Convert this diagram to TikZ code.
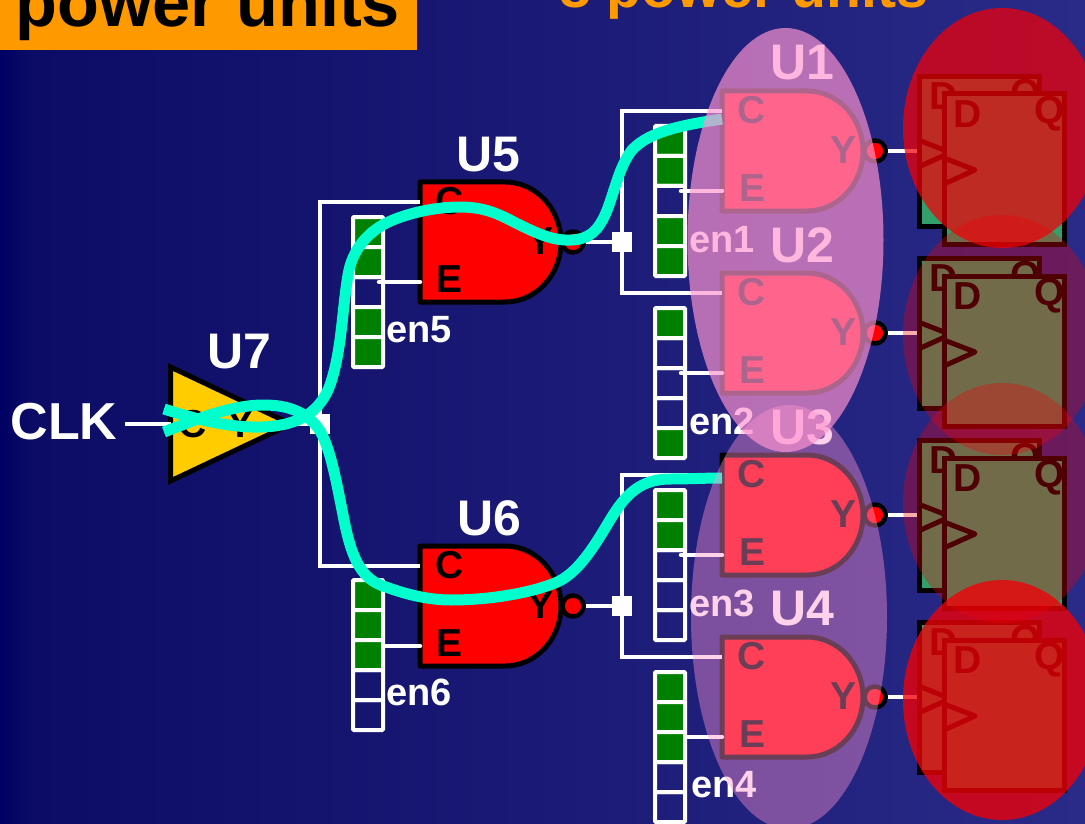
\documentclass[tikz,border=0pt]{standalone}
\usepackage{fontspec}
\setmainfont{Liberation Sans}
\usetikzlibrary{positioning, shapes.geometric}
\definecolor{bgstrip}{RGB}{0,0,100}
\definecolor{bgleft}{RGB}{12,12,102}
\definecolor{bgright}{RGB}{42,42,136}
\definecolor{clkgreen}{RGB}{0,255,204}
\definecolor{ffgreen}{RGB}{51,160,108}
\definecolor{bitgreen}{RGB}{0,128,0}
\definecolor{titleorange}{RGB}{255,153,0}
\definecolor{bufyellow}{RGB}{255,204,0}
\definecolor{halopink}{RGB}{255,148,208}
\definecolor{halored}{RGB}{242,0,7}
\tikzstyle{gatebody} = [draw=black, fill=red, line width=5pt, line join=round]
\tikzstyle{ffbody} = [rectangle, draw=black, fill=ffgreen, line width=5pt,
minimum width=120pt,
minimum height=150pt,
inner sep=0pt,
outer sep=0pt]
\tikzstyle{ffclock} = [draw=black, line width=5pt, line join=round]
\tikzstyle{bit} = [rectangle, rounded corners=1pt, draw=white, line width=4pt,
minimum width=30pt,
minimum height=30pt,
inner sep=0pt,
outer sep=0pt]
\tikzstyle{pinlabel} = [font=\fontsize{39}{39}\selectfont\bfseries, text=black, inner sep=0pt]
\tikzstyle{unitlabel} = [font=\fontsize{50}{50}\selectfont\bfseries, text=white, inner sep=0pt]
\tikzstyle{enlabel} = [font=\fontsize{38}{38}\selectfont\bfseries, text=white, inner sep=0pt, anchor=base west]
\tikzstyle{wire} = [draw=white, line width=4.5pt]
\tikzstyle{junction} = [rectangle, fill=white, minimum size=20pt, inner sep=0pt]
\tikzstyle{clktree} = [draw=clkgreen, line width=11pt]
\tikzstyle{bubble} = [circle, draw=black, fill=red, line width=4.5pt, minimum size=21pt, inner sep=0pt]
\tikzstyle{gatehalo} = [ellipse, fill=halopink, minimum width=196pt, minimum height=424pt, inner sep=0pt]
\tikzstyle{ffhalo} = [ellipse, fill=halored, minimum width=198pt, minimum height=240pt, inner sep=0pt]

% compuerta: nombre, izquierda, arriba
\newcommand{\nandgate}[3]{
  \coordinate (#1) at (#2,#3);
  \draw [gatebody] (#1) -- ++(85,0) .. controls +(31,0) and +(0,-33) .. ++(56,60)
    .. controls +(0,33) and +(31,0) .. ++(-56,60) -- ++(-85,0) -- cycle;
  \node (#1c) [pinlabel] at ([shift={(30,19)}]#1) {C};
  \node (#1e) [pinlabel] at ([shift={(30,97)}]#1) {E};
  \node (#1y) [pinlabel] at ([shift={(121,59)}]#1) {Y};
  \node (#1o) [bubble] at ([shift={(153,60)}]#1) {};
  \coordinate (#1cin) at ([shift={(0,20)}]#1);
  \coordinate (#1ein) at ([shift={(0,100)}]#1);
}
% registro: nombre, x, arriba, relleno de los cinco bits
\newcommand{\enreg}[8]{
  \node (#1a) [bit, fill=#4] at (#2,#3+15) {};
  \node (#1b) [bit, fill=#5, below=0pt of #1a] {};
  \node (#1c) [bit, fill=#6, below=0pt of #1b] {};
  \node (#1d) [bit, fill=#7, below=0pt of #1c] {};
  \node (#1e) [bit, fill=#8, below=0pt of #1d] {};
}
% flip-flop: nombre, izquierda, arriba
\newcommand{\flipflop}[3]{
  \node (#1) [ffbody, anchor=north west] at (#2,#3) {};
  \node (#1d) [pinlabel] at ([shift={(24,20)}]#1.north west) {D};
  \node (#1q) [pinlabel] at ([shift={(106,20)}]#1.north west) {Q};
  \draw [ffclock] ([shift={(0,64)}]#1.north west) -- ([shift={(31,76)}]#1.north west) -- ([shift={(0,90)}]#1.north west);
}

\begin{document}
\begin{tikzpicture}[x=1pt, y=-1pt]
  \useasboundingbox (0,0) rectangle (1085,824);
  \clip (0,0) rectangle (1085,824);

  % --- Fondo ---
  \fill [left color=bgleft, right color=bgright] (33,0) rectangle (1085,824);
  \fill [left color=bgstrip, right color=bgleft] (0,0) rectangle (33,824);
  \fill [titleorange] (0,0) rectangle (417,50);
  \node (title) [anchor=base west, inner sep=0pt, font=\fontsize{68.5}{68.5}\selectfont\bfseries, text=black] at (15.5,26.5) {power units};
  \node (subtitle) [anchor=base west, inner sep=0pt, font=\fontsize{57.2}{57.2}\selectfont\bfseries, text=titleorange] at (559,8) {8 power units};

  % --- Nodos de conexion ---
  \node (clk) [unitlabel, anchor=center, font=\fontsize{52}{52}\selectfont\bfseries] at (64,422) {CLK};
  \coordinate (u7in) at (170.5,424);
  \coordinate (u7out) at (291,424);
  \node (jclk) [junction] at (320,424) {};
  \node (ju5) [junction] at (622,242) {};
  \node (ju6) [junction] at (622,606) {};

  % --- Compuertas ---
  \draw [gatebody, fill=bufyellow, line join=miter] (170.5,367) -- (u7out) -- (170.5,481) -- cycle;
  \node (u7c) [pinlabel] at (193,424) {C};
  \node (u7y) [pinlabel] at (241,424) {Y};
  \nandgate{u5}{420}{182}
  \nandgate{u6}{420}{546}
  \nandgate{u1}{722}{91}
  \nandgate{u2}{722}{273}
  \nandgate{u3}{722}{455}
  \nandgate{u4}{722}{637}

  \node (u1lab) [unitlabel] at (802,63) {U1};
  \node (u2lab) [unitlabel] at (802,245) {U2};
  \node (u3lab) [unitlabel] at (802,427) {U3};
  \node (u4lab) [unitlabel] at (802,609) {U4};
  \node (u5lab) [unitlabel] at (488,155) {U5};
  \node (u6lab) [unitlabel] at (489,518) {U6};
  \node (u7lab) [unitlabel] at (239,352) {U7};

  % --- Conexiones ---
  \draw [wire] ([xshift=7pt]clk.east |- u7in) -- (u7in);
  \draw [wire] (u7out) -- (jclk.center);
  \draw [wire] (jclk.center) |- (u5cin);
  \draw [wire] (jclk.center) |- (u6cin);
  \draw [wire] (ju5.center) |- (u1cin);
  \draw [wire] (ju5.center) |- (u2cin);
  \draw [wire] (ju6.center) |- (u3cin);
  \draw [wire] (ju6.center) |- (u4cin);
  \draw [wire] (u5o.east) -- (ju5.west);
  \draw [wire] (u6o.east) -- (ju6.west);
  \draw [wire] (u1o.east) -- ++(35,0);
  \draw [wire] (u2o.east) -- ++(35,0);
  \draw [wire] (u3o.east) -- ++(35,0);
  \draw [wire] (u4o.east) -- ++(35,0);
  \draw [wire, line cap=round] (u1ein) -- ++(-41,0);
  \draw [wire, line cap=round] (u2ein) -- ++(-41,0);
  \draw [wire, line cap=round] (u3ein) -- ++(-41,0);
  \draw [wire, line cap=round] (u4ein) -- ++(-41,0);
  \draw [wire, line cap=round] (u5ein) -- ++(-41,0);
  \draw [wire, line cap=round] (u6ein) -- ++(-41,0);

  % --- Registros ---
  \enreg{en1}{670}{126}{bitgreen}{bitgreen}{none}{bitgreen}{bitgreen}
  \enreg{en2}{670}{308}{bitgreen}{none}{none}{none}{bitgreen}
  \enreg{en3}{670}{490}{bitgreen}{bitgreen}{none}{none}{none}
  \enreg{en4}{670}{672}{bitgreen}{bitgreen}{bitgreen}{none}{none}
  \enreg{en5}{368}{217}{bitgreen}{bitgreen}{none}{bitgreen}{bitgreen}
  \enreg{en6}{368}{580}{bitgreen}{bitgreen}{bitgreen}{none}{none}
  \node (en1lab) [enlabel] at (689,252) {en1};
  \node (en2lab) [enlabel] at (689,434) {en2};
  \node (en3lab) [enlabel] at (689,616) {en3};
  \node (en4lab) [enlabel] at (691,797) {en4};
  \node (en5lab) [enlabel] at (386,342) {en5};
  \node (en6lab) [enlabel] at (386,705) {en6};

  % --- Flip-flops ---
  \flipflop{ff1a}{919.5}{76.5}
  \flipflop{ff1b}{944}{94}
  \flipflop{ff2a}{919.5}{258.5}
  \flipflop{ff2b}{944}{276}
  \flipflop{ff3a}{919.5}{440.5}
  \flipflop{ff3b}{944}{458}
  \flipflop{ff4a}{919.5}{622.5}
  \flipflop{ff4b}{944}{640}

  % --- Arbol de reloj ---
  \coordinate (clkup) at (164,409);
  \coordinate (clkdown) at (164,432);
  \coordinate (u1clk) at (722,119);
  \coordinate (u3clk) at (722,478);
  \draw [clktree] (clkup) .. controls (195,419) and (230,428) .. (262,427)
    .. controls (290,426) and (318,418) .. (330,385)
    .. controls (342,350) and (342,310) .. (348,275)
    .. controls (352,250) and (368,230) .. (393,220)
    .. controls (410,213) and (435,207) .. (460,207)
    .. controls (490,207) and (505,218) .. (520,225)
    .. controls (540,235) and (555,241) .. (572,240)
    .. controls (590,239) and (598,230) .. (605,215)
    .. controls (614,195) and (618,168) .. (632,150)
    .. controls (650,130) and (690,124) .. (u1clk);
  \draw [clktree] (clkdown) .. controls (195,420) and (230,405) .. (264,405)
    .. controls (288,405) and (306,412) .. (318,428)
    .. controls (330,444) and (337,485) .. (344,520)
    .. controls (352,560) and (362,580) .. (386,587)
    .. controls (405,594) and (428,600) .. (451,600)
    .. controls (490,600) and (530,593) .. (555,583)
    .. controls (578,574) and (595,545) .. (610,520)
    .. controls (625,495) and (640,479) .. (670,479)
    .. controls (690,479) and (705,478) .. (u3clk);

  % --- Zonas de potencia ---
  \node (halo1) [gatehalo, fill opacity=0.68] at (785.5,240) {};
  \node (halo2) [gatehalo, fill opacity=0.42] at (789,617) {};
  \node (haloa) [ffhalo, fill opacity=0.73] at (1002,128) {};
  \node (halob) [ffhalo, fill opacity=0.33] at (1002,335) {};
  \node (haloc) [ffhalo, fill opacity=0.33] at (1002,503) {};
  \node (halod) [ffhalo, fill opacity=0.78] at (1002,700) {};

\end{tikzpicture}
\end{document}
